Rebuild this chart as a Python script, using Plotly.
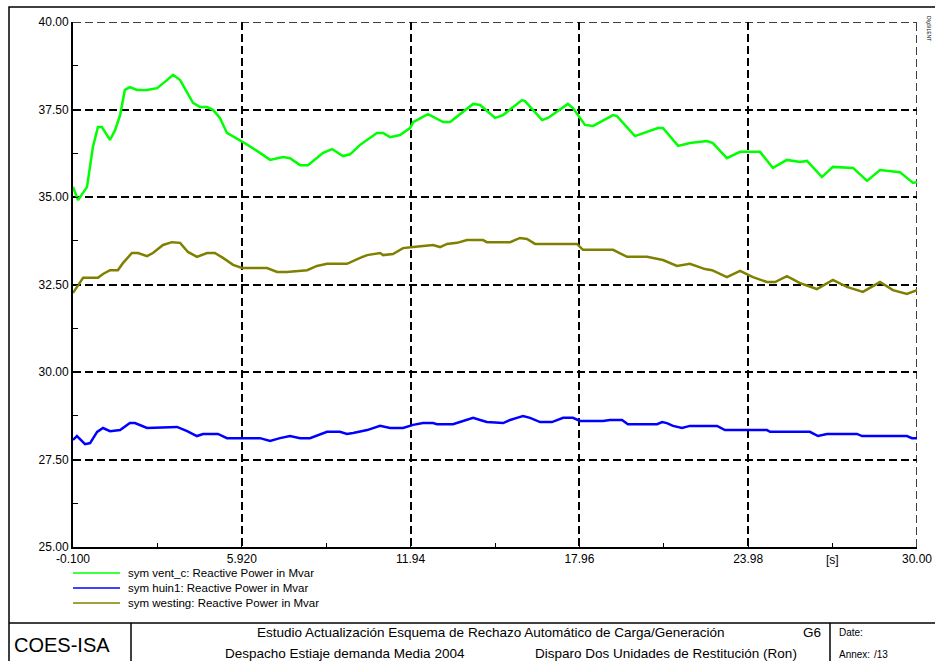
import plotly.graph_objects as go

# time axis [s] and reactive power [Mvar]
vent_t = [-0.10, 0.08, 0.40, 0.61, 0.79, 0.93, 1.22, 1.40, 1.58, 1.75, 1.93, 2.18, 2.54, 2.90,
          3.25, 3.47, 3.72, 3.97, 4.18, 4.43, 4.68, 4.89, 5.14, 5.39, 5.96, 6.57, 6.93, 7.39,
          7.64, 8.00, 8.28, 8.82, 9.14, 9.53, 9.78, 10.14, 10.39, 10.74, 10.96, 11.21, 11.56,
          11.92, 12.03, 12.56, 13.10, 13.35, 14.17, 14.42, 14.95, 15.24, 15.91, 16.02, 16.63,
          16.84, 17.55, 17.73, 18.16, 18.45, 19.16, 19.30, 19.94, 20.37, 20.76, 20.94, 21.48,
          21.90, 22.51, 22.72, 23.22, 23.69, 24.40, 24.86, 25.36, 25.83, 26.08, 26.61, 27.00,
          27.72, 28.22, 28.68, 29.39, 29.86, 30.00]
vent_q = [35.29, 34.91, 35.29, 36.43, 37.00, 37.00, 36.63, 36.91, 37.34, 38.06, 38.14, 38.06, 38.06, 38.11,
          38.34, 38.49, 38.34, 37.97, 37.69, 37.57, 37.57, 37.49, 37.26, 36.83, 36.57, 36.26, 36.06, 36.14,
          36.11, 35.91, 35.91, 36.26, 36.37, 36.17, 36.22, 36.49, 36.63, 36.83, 36.83, 36.71, 36.77,
          36.97, 37.14, 37.37, 37.14, 37.14, 37.66, 37.63, 37.26, 37.34, 37.77, 37.74, 37.20,
          37.26, 37.66, 37.54, 37.06, 37.03, 37.34, 37.31, 36.74, 36.86, 36.97, 36.97, 36.46,
          36.54, 36.60, 36.54, 36.11, 36.29, 36.29, 35.83, 36.06, 36.00, 36.03, 35.57, 35.86,
          35.83, 35.46, 35.77, 35.71, 35.40, 35.43]

huin_t = [-0.10, 0.04, 0.33, 0.51, 0.76, 0.97, 1.22, 1.58, 1.93, 2.11, 2.54, 3.36, 3.61, 3.97,
          4.32, 4.54, 5.07, 5.39, 6.57, 6.93, 7.28, 7.64, 8.00, 8.35, 8.82, 8.96, 9.42, 9.67,
          9.89, 10.39, 10.85, 11.21, 11.67, 12.03, 12.38, 12.74, 12.88, 13.45, 13.70, 14.17,
          14.42, 14.66, 15.24, 15.49, 15.73, 15.95, 16.20, 16.56, 16.98, 17.16, 17.38, 17.73,
          17.98, 18.80, 19.05, 19.48, 19.69, 20.73, 20.91, 21.08, 21.30, 21.62, 21.90, 22.87,
          23.15, 24.65, 24.76, 26.18, 26.47, 26.79, 27.86, 28.04, 29.64, 29.82, 30.00]
huin_q = [28.06, 28.17, 27.94, 27.97, 28.29, 28.40, 28.31, 28.34, 28.54, 28.54, 28.40, 28.43, 28.43, 28.31,
          28.17, 28.23, 28.23, 28.11, 28.11, 28.03, 28.11, 28.17, 28.11, 28.11, 28.26, 28.29, 28.29, 28.23,
          28.26, 28.34, 28.46, 28.40, 28.40, 28.49, 28.54, 28.54, 28.51, 28.51, 28.57, 28.69,
          28.63, 28.57, 28.54, 28.63, 28.69, 28.74, 28.69, 28.57, 28.57, 28.63, 28.69, 28.69,
          28.60, 28.60, 28.63, 28.63, 28.51, 28.51, 28.57, 28.54, 28.46, 28.40, 28.46, 28.46,
          28.34, 28.34, 28.29, 28.29, 28.17, 28.23, 28.23, 28.17, 28.17, 28.11, 28.11]

west_t = [-0.10, 0.08, 0.26, 0.79, 0.97, 1.22, 1.50, 1.68, 2.00, 2.22, 2.54, 2.75, 3.11, 3.43,
          3.72, 4.00, 4.32, 4.68, 4.96, 5.25, 5.61, 5.93, 6.82, 7.18, 7.53, 8.25, 8.60, 8.96,
          9.67, 10.14, 10.39, 10.85, 10.96, 11.31, 11.67, 12.03, 12.74, 12.99, 13.24, 13.60,
          13.95, 14.52, 14.66, 15.49, 15.84, 16.09, 16.38, 17.87, 18.09, 19.16, 19.66, 20.12,
          20.37, 20.94, 21.44, 21.90, 22.44, 22.69, 23.22, 23.69, 24.15, 24.65, 24.94, 25.36,
          25.83, 26.43, 27.00, 27.50, 28.07, 28.68, 29.14, 29.64, 30.00]
west_q = [32.26, 32.49, 32.69, 32.69, 32.80, 32.91, 32.91, 33.11, 33.40, 33.40, 33.31, 33.40, 33.63, 33.71,
          33.69, 33.43, 33.29, 33.40, 33.40, 33.26, 33.06, 32.97, 32.97, 32.86, 32.86, 32.91, 33.03, 33.09,
          33.09, 33.26, 33.34, 33.40, 33.34, 33.37, 33.54, 33.57, 33.63, 33.57, 33.66, 33.69,
          33.77, 33.77, 33.71, 33.71, 33.83, 33.80, 33.66, 33.66, 33.49, 33.49, 33.29, 33.29,
          33.29, 33.20, 33.03, 33.09, 32.94, 32.91, 32.71, 32.89, 32.71, 32.57, 32.57, 32.74,
          32.54, 32.37, 32.63, 32.43, 32.29, 32.57, 32.34, 32.23, 32.34]

x_ticks = [-0.1, 5.92, 11.94, 17.96, 23.98, 30.0]
x_ticktext = ["-0.100", "5.920", "11.94", "17.96", "23.98", "30.00"]
x_minor = [2.91, 8.93, 14.95, 20.97, 26.99]
y_ticks = [25.0, 27.5, 30.0, 32.5, 35.0, 37.5, 40.0]
y_ticktext = ["25.00", "27.50", "30.00", "32.50", "35.00", "37.50", "40.00"]
y_minor = [26.25, 28.75, 31.25, 33.75, 36.25, 38.75]

series_names = ["sym vent_c: Reactive Power in Mvar",
                "sym huin1: Reactive Power in Mvar",
                "sym westing: Reactive Power in Mvar"]
series_colors = ["#00ff00", "#0000ff", "#808000"]

W, H = 935, 661
L, R, T, B = 73, 18, 22, 114
FONT = "Liberation Sans, Arial, sans-serif"
GRID_DASH = "8px,4px"


# pixel position on the page -> paper coordinates
def px(x):
    return (x - L) / (W - L - R)


def py(y):
    return (H - B - y) / (H - T - B)


fig = go.Figure()
for t, q, name, col in zip([vent_t, huin_t, west_t], [vent_q, huin_q, west_q],
                           series_names, series_colors):
    fig.add_trace(go.Scatter(x=t, y=q, mode="lines", name=name,
                             line=dict(color=col, width=2.5), showlegend=False))

shapes = []
annotations = []

# plotly drops the grid lines sitting on the range ends, PowerFactory draws them
shapes += [
    dict(type="line", xref="x", yref="y", x0=x_ticks[0], x1=x_ticks[-1], y0=y_ticks[-1], y1=y_ticks[-1],
         line=dict(color="black", width=1.5, dash=GRID_DASH), layer="below"),
    dict(type="line", xref="x", yref="y", x0=x_ticks[-1], x1=x_ticks[-1], y0=y_ticks[0], y1=y_ticks[-1],
         line=dict(color="black", width=1.5, dash=GRID_DASH), layer="below"),
]

# hand drawn legend under the plot (like the PowerFactory layout)
for i, (name, col) in enumerate(zip(series_names, series_colors)):
    yy = 573 + 15 * i
    shapes.append(dict(type="line", xref="paper", yref="paper",
                       x0=px(73), x1=px(120), y0=py(yy), y1=py(yy),
                       line=dict(color=col, width=1.5)))
    annotations.append(dict(text=name, xref="paper", yref="paper", x=px(126), y=py(yy),
                            xanchor="left", yanchor="middle", showarrow=False,
                            font=dict(size=11.5, color="black", family=FONT)))

# page frame and title block
shapes += [
    dict(type="rect", xref="paper", yref="paper", x0=px(9), x1=px(940), y0=py(7), y1=py(670),
         line=dict(color="black", width=1.5)),
    dict(type="line", xref="paper", yref="paper", x0=px(9), x1=px(940), y0=py(623), y1=py(623),
         line=dict(color="black", width=1.5)),
    dict(type="line", xref="paper", yref="paper", x0=px(131), x1=px(131), y0=py(623), y1=py(670),
         line=dict(color="black", width=1.5)),
    dict(type="line", xref="paper", yref="paper", x0=px(830), x1=px(830), y0=py(623), y1=py(670),
         line=dict(color="black", width=1.5)),
]


def label(text, x, y, size, anchor="center"):
    annotations.append(dict(text=text, xref="paper", yref="paper", x=px(x), y=py(y),
                            xanchor=anchor, yanchor="middle", showarrow=False,
                            font=dict(size=size, color="black", family=FONT)))


label("COES-ISA", 12, 645, 20, "left")
label("Estudio Actualización Esquema de Rechazo Automático de Carga/Generación", 491, 632, 13.5)
label("G6", 812, 632, 13.5)
label("Despacho Estiaje demanda Media 2004", 345, 653, 13.5)
label("Disparo Dos Unidades de Restitución (Ron)", 666, 653, 13.5)
label("Date:", 837, 632, 10, "left")
label("Annex:", 837, 654, 10, "left")
label("/13", 872, 654, 10, "left")

# unit label in place of a tick label
annotations.append(dict(text="[s]", x=26.99, xref="x", y=py(560), yref="paper",
                        xanchor="center", yanchor="middle", showarrow=False,
                        font=dict(size=12, color="black", family=FONT)))
# tiny vertical program stamp in the corner
annotations.append(dict(text="DIgSILENT", xref="paper", yref="paper", x=px(929), y=py(28),
                        textangle=90, showarrow=False, xanchor="center", yanchor="middle",
                        font=dict(size=5, color="black", family=FONT)))

fig.update_layout(
    width=W, height=H, autosize=False,
    margin=dict(l=L, r=R, t=T, b=B),
    paper_bgcolor="white", plot_bgcolor="white",
    font=dict(family=FONT, size=12, color="black"),
    shapes=shapes,
    annotations=annotations,
    xaxis=dict(
        range=[-0.1, 30.0], automargin=False,
        tickmode="array", tickvals=x_ticks, ticktext=x_ticktext,
        ticks="inside", ticklen=5, tickcolor="black",
        showgrid=True, gridcolor="black", gridwidth=1.5, griddash=GRID_DASH,
        showline=True, linecolor="black", linewidth=2,
        zeroline=False,
        minor=dict(tickmode="array", tickvals=x_minor, ticks="inside", ticklen=4,
                   tickcolor="black", showgrid=False),
        tickfont=dict(size=12),
    ),
    yaxis=dict(
        range=[25.0, 40.0], automargin=False,
        tickmode="array", tickvals=y_ticks, ticktext=y_ticktext,
        ticks="inside", ticklen=5, tickcolor="black",
        showgrid=True, gridcolor="black", gridwidth=1.5, griddash=GRID_DASH,
        showline=True, linecolor="black", linewidth=2,
        zeroline=False,
        minor=dict(tickmode="array", tickvals=y_minor, ticks="inside", ticklen=5,
                   tickcolor="black", showgrid=False),
        tickfont=dict(size=12),
    ),
)

# page body has an 8px default margin; drop it so the figure fills the window
fig.write_html("out.html",
               config={"responsive": False, "displayModeBar": False},
               post_script="document.body.style.margin='0';document.body.style.overflow='hidden';")
